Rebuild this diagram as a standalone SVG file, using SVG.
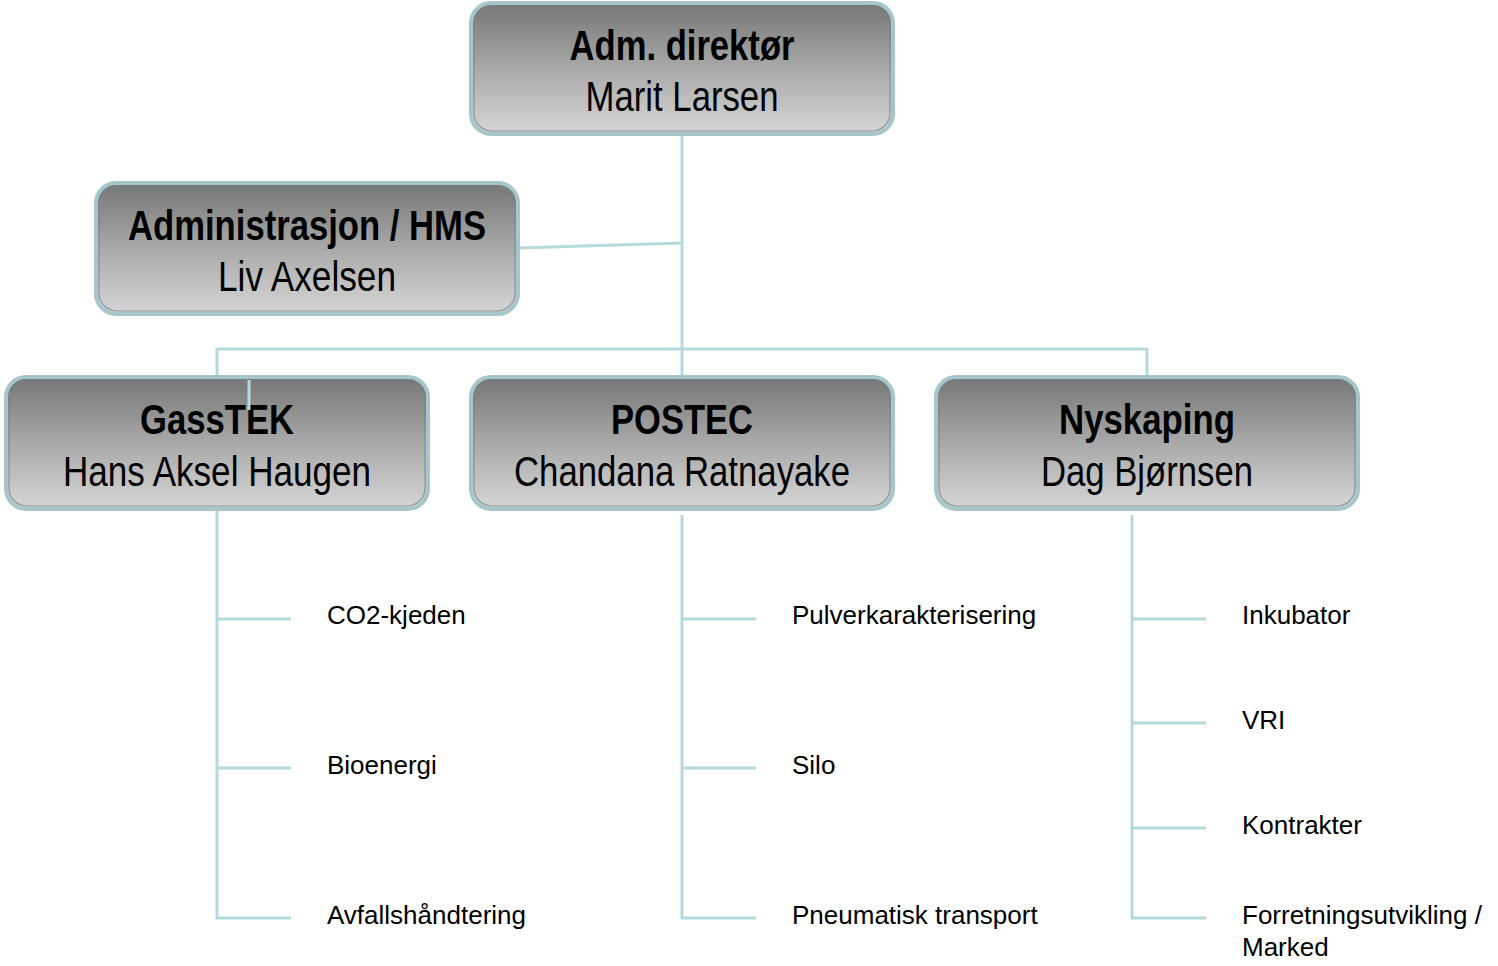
<svg xmlns="http://www.w3.org/2000/svg" width="1498" height="966" viewBox="0 0 1498 966">
<defs>
<linearGradient id="g" x1="0" y1="0" x2="0" y2="1">
<stop offset="0" stop-color="#767676"/>
<stop offset="0.5" stop-color="#a9a9a9"/>
<stop offset="1" stop-color="#d6d6d6"/>
</linearGradient>
</defs>
<style>
.box{fill:url(#g);stroke:#a7c6ca;stroke-width:4}
.inner{fill:none;stroke:#6f8588;stroke-width:1.2;opacity:0.7}
.t{font-family:"Liberation Sans",Arial,sans-serif;font-size:43px;fill:#000;text-anchor:middle}
.b{font-weight:bold}
.c{fill:none;stroke:#b4dadd;stroke-width:3}
.l{font-family:"Liberation Sans",Arial,sans-serif;font-size:26px;fill:#000}
</style>
<g id="connectors">
<path class="c" d="M682 134V377"/>
<path class="c" d="M518 248L682 243"/>
<path class="c" d="M217 377V349H1147V377"/>
<path class="c" d="M217 509V918H291M217 619H291M217 768H291"/>
<path class="c" d="M682 515V918H756M682 619H756M682 768H756"/>
<path class="c" d="M1132 515V918H1206M1132 619H1206M1132 723H1206M1132 828H1206"/>
</g>
<g id="n-adm">
<rect class="box" x="471" y="3" width="422" height="131" rx="20"/>
<rect class="inner" x="474" y="6" width="416" height="125" rx="18"/>
<text class="t b" x="682" y="60" textLength="225" lengthAdjust="spacingAndGlyphs">Adm. direktør</text>
<text class="t" x="682" y="111" textLength="193" lengthAdjust="spacingAndGlyphs">Marit Larsen</text>
</g>
<g id="n-admin">
<rect class="box" x="96" y="183" width="422" height="131" rx="20"/>
<rect class="inner" x="99" y="186" width="416" height="125" rx="18"/>
<text class="t b" x="307" y="240" textLength="358" lengthAdjust="spacingAndGlyphs">Administrasjon / HMS</text>
<text class="t" x="307" y="291" textLength="178" lengthAdjust="spacingAndGlyphs">Liv Axelsen</text>
</g>
<g id="n-gasstek">
<rect class="box" x="6" y="377" width="422" height="132" rx="20"/>
<rect class="inner" x="9" y="380" width="416" height="126" rx="18"/>
<text class="t b" x="217" y="434" textLength="154" lengthAdjust="spacingAndGlyphs">GassTEK</text>
<text class="t" x="217" y="486" textLength="308" lengthAdjust="spacingAndGlyphs">Hans Aksel Haugen</text>
</g>
<g id="n-postec">
<rect class="box" x="471" y="377" width="422" height="132" rx="20"/>
<rect class="inner" x="474" y="380" width="416" height="126" rx="18"/>
<text class="t b" x="682" y="434" textLength="142" lengthAdjust="spacingAndGlyphs">POSTEC</text>
<text class="t" x="682" y="486" textLength="336" lengthAdjust="spacingAndGlyphs">Chandana Ratnayake</text>
</g>
<g id="n-nyskaping">
<rect class="box" x="936" y="377" width="422" height="132" rx="20"/>
<rect class="inner" x="939" y="380" width="416" height="126" rx="18"/>
<text class="t b" x="1147" y="434" textLength="176" lengthAdjust="spacingAndGlyphs">Nyskaping</text>
<text class="t" x="1147" y="486" textLength="212" lengthAdjust="spacingAndGlyphs">Dag Bjørnsen</text>
</g>
<g id="connector-stub">
<path class="c" d="M249 380V410" stroke-width="1.5"/>
</g>
<g id="labels">
<text class="l" x="327" y="624">CO2-kjeden</text>
<text class="l" x="327" y="774">Bioenergi</text>
<text class="l" x="327" y="924">Avfallshåndtering</text>
<text class="l" x="792" y="624">Pulverkarakterisering</text>
<text class="l" x="792" y="774">Silo</text>
<text class="l" x="792" y="924">Pneumatisk transport</text>
<text class="l" x="1242" y="624">Inkubator</text>
<text class="l" x="1242" y="729">VRI</text>
<text class="l" x="1242" y="834">Kontrakter</text>
<text class="l" x="1242" y="924">Forretningsutvikling /</text>
<text class="l" x="1242" y="956">Marked</text>
</g>
</svg>
